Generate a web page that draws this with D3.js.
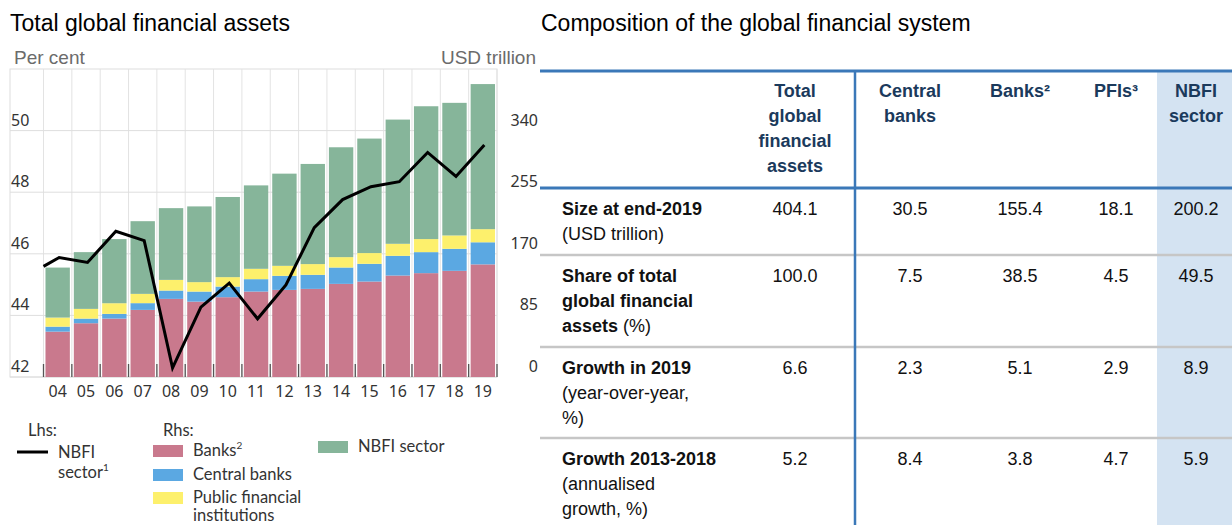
<!DOCTYPE html>
<html lang="en">
<head>
    <meta charset="UTF-8">
    <style>
        body { margin: 0; background: #fff; }
        svg { display: block; }
    </style>
</head>
<body>
    <script src="https://d3js.org/d3.v7.min.js"></script>
    <div id="here"></div>

    <script>
        // ---- chart data (left panel) ----
        const years = ["04","05","06","07","08","09","10","11","12","13","14","15","16","17","18","19"];
        // USD trillion
        const banks        = [62.6, 74.2, 80.6, 92.6, 107.8, 104.0, 110.1, 117.9, 120.2, 121.6, 128.5, 131.7, 140.0, 143.3, 146.5, 155.4];
        const centralBanks = [6.9, 6.4, 6.5, 9.3, 11.5, 13.9, 14.7, 17.1, 19.4, 19.4, 22.6, 24.5, 27.2, 29.0, 30.4, 30.5];
        const pfis         = [12.5, 13.4, 14.7, 12.8, 14.7, 13.0, 13.0, 14.3, 13.8, 14.8, 14.3, 14.8, 16.6, 18.0, 18.4, 18.1];
        const nbfi         = [69.0, 78.3, 88.5, 100.3, 99.0, 104.5, 110.6, 115.1, 127.2, 138.2, 151.6, 158.0, 171.4, 183.3, 183.0, 200.2];
        // NBFI share of total, per cent (lhs); first value sits at the start of 2004
        const nbfiShareStart = 45.59;
        const nbfiShare    = [45.88, 45.72, 46.73, 46.43, 42.30, 44.27, 45.05, 43.89, 44.99, 46.85, 47.76, 48.18, 48.34, 49.29, 48.51, 49.53];

        const lhsTicks = [42, 44, 46, 48, 50];
        const rhsTicks = [0, 85, 170, 255, 340];

        // ---- table data (right panel) ----
        const tableHeaders = [["Total", "global", "financial", "assets"], ["Central", "banks"], ["Banks²"], ["PFIs³"], ["NBFI", "sector"]];
        const rowBold   = [["Size at end-2019"], ["Share of total", "global financial", "assets"], ["Growth in 2019"], ["Growth 2013-2018"]];
        const rowNormal = [["(USD trillion)"], [" (%)"], ["(year-over-year,", "%)"], ["(annualised", "growth, %)"]];
        const sizeEnd2019 = [404.1, 30.5, 155.4, 18.1, 200.2];
        const shareOfTotal = [100.0, 7.5, 38.5, 4.5, 49.5];
        const growth2019 = [6.6, 2.3, 5.1, 2.9, 8.9];
        const growth1318 = [5.2, 8.4, 3.8, 4.7, 5.9];
        const tableRows = [sizeEnd2019, shareOfTotal, growth2019, growth1318];

        const colors = { banks: "#c9798d", central: "#5ba8e2", pfi: "#fdf06c", nbfi: "#86b59a" };

        const W = 1232, H = 525;
        const svg = d3.select("#here").append("svg")
            .attr("width", W).attr("height", H)
            .style("font-family", "'Liberation Sans', Arial, sans-serif");

        // ================= left chart =================
        const plot = { left: 10, right: 497, top: 69, bottom: 377 };
        const tickFont = "'Noto Sans', 'Open Sans', sans-serif";

        svg.append("text").attr("x", 10).attr("y", 31)
            .attr("font-size", 23).attr("fill", "#000").text("Total global financial assets");
        svg.append("text").attr("x", 14).attr("y", 64)
            .attr("font-size", 19).attr("fill", "#6b6b6b").text("Per cent");
        svg.append("text").attr("x", 536).attr("y", 64).attr("text-anchor", "end")
            .attr("font-size", 19).attr("fill", "#6b6b6b").text("USD trillion");

        const x = d3.scaleBand()
            .domain(years)
            .range([43.5, plot.right])
            .paddingInner(0.14)
            .paddingOuter(0.07);
        const step = x.step();
        const yR = d3.scaleLinear().domain([0, 425]).range([plot.bottom, plot.top]);
        const yL = d3.scaleLinear().domain([42, 52]).range([plot.bottom, plot.top]);

        // frame + grid
        svg.append("rect")
            .attr("x", plot.left).attr("y", plot.top)
            .attr("width", plot.right - plot.left).attr("height", plot.bottom - plot.top)
            .attr("fill", "none").attr("stroke", "#dedede").attr("stroke-width", 1);

        const cellEdges = d3.range(years.length + 1).map(i => x.range()[0] + i * step);
        svg.append("g").selectAll("line").data(cellEdges).join("line")
            .attr("x1", d => d).attr("x2", d => d)
            .attr("y1", plot.top).attr("y2", plot.bottom)
            .attr("stroke", "#e3e3e3").attr("stroke-width", 1);

        svg.append("g").selectAll("line").data(rhsTicks).join("line")
            .attr("x1", plot.left).attr("x2", plot.right)
            .attr("y1", d => yR(d)).attr("y2", d => yR(d))
            .attr("stroke", "#dedede").attr("stroke-width", 1);

        // stacked bars
        const stackData = years.map((yr, i) => ({
            year: yr, banks: banks[i], central: centralBanks[i], pfi: pfis[i], nbfi: nbfi[i]
        }));
        const series = d3.stack().keys(["banks", "central", "pfi", "nbfi"])(stackData);

        svg.append("g").selectAll("g").data(series).join("g")
            .attr("fill", d => colors[d.key])
            .selectAll("rect").data(d => d).join("rect")
                .attr("x", d => x(d.data.year))
                .attr("y", d => yR(d[1]))
                .attr("width", x.bandwidth())
                .attr("height", d => yR(d[0]) - yR(d[1]));

        // bottom ticks between bars
        svg.append("g").selectAll("line").data(cellEdges).join("line")
            .attr("x1", d => d).attr("x2", d => d)
            .attr("y1", plot.bottom - 13).attr("y2", plot.bottom)
            .attr("stroke", "#555").attr("stroke-width", 1.3);

        // NBFI share line
        const lineData = [{ px: x.range()[0], v: nbfiShareStart }]
            .concat(years.map((yr, i) => ({ px: x(yr) + x.bandwidth() / 2 + 1.5, v: nbfiShare[i] })));
        svg.append("path")
            .datum(lineData)
            .attr("fill", "none").attr("stroke", "#000").attr("stroke-width", 3)
            .attr("stroke-linejoin", "miter")
            .attr("d", d3.line().x(d => d.px).y(d => yL(d.v)));

        // axis labels
        svg.append("g").selectAll("text").data(lhsTicks).join("text")
            .attr("x", 11).attr("y", d => yL(d) - 5)
            .attr("font-family", tickFont).attr("font-size", 16).attr("fill", "#333")
            .text(d => d);
        svg.append("g").selectAll("text").data(rhsTicks).join("text")
            .attr("x", 538).attr("y", d => yR(d) - 5).attr("text-anchor", "end")
            .attr("font-family", tickFont).attr("font-size", 16).attr("fill", "#333")
            .text(d => d);
        svg.append("g").selectAll("text").data(years).join("text")
            .attr("x", d => x(d) + x.bandwidth() / 2).attr("y", 397)
            .attr("text-anchor", "middle")
            .attr("font-family", tickFont).attr("font-size", 16).attr("fill", "#333")
            .text(d => d);

        // legend
        const lg = svg.append("g").attr("font-family", "Lato, 'Noto Sans', sans-serif")
            .attr("font-size", 16.5).attr("fill", "#333");
        lg.append("text").attr("x", 28).attr("y", 436).text("Lhs:");
        lg.append("line").attr("x1", 17).attr("x2", 48).attr("y1", 452).attr("y2", 452)
            .attr("stroke", "#000").attr("stroke-width", 3);
        lg.append("text").attr("x", 58).attr("y", 458).text("NBFI");
        const s1 = lg.append("text").attr("x", 58).attr("y", 478).text("sector");
        s1.append("tspan").attr("font-size", 10).attr("dy", -7).text("1");

        lg.append("text").attr("x", 163).attr("y", 436).text("Rhs:");
        const legendItems = [
            { key: "banks", label: "Banks", sup: "2", x: 153, y: 445, lines: [] },
            { key: "central", label: "Central banks", x: 153, y: 469, lines: [] },
            { key: "pfi", label: "Public financial", x: 153, y: 492, lines: ["institutions"] },
            { key: "nbfi", label: "NBFI sector", x: 318, y: 441, lines: [] }
        ];
        legendItems.forEach(it => {
            lg.append("rect").attr("x", it.x).attr("y", it.y).attr("width", 30).attr("height", 12)
                .attr("fill", colors[it.key]);
            const t = lg.append("text").attr("x", it.x + 40).attr("y", it.y + 11).text(it.label);
            if (it.sup) t.append("tspan").attr("font-size", 10).attr("dy", -7).text(it.sup);
            it.lines.forEach((l, j) => {
                lg.append("text").attr("x", it.x + 40).attr("y", it.y + 9 + 20 * (j + 1)).text(l);
            });
        });

        // ================= right table =================
        const blue = "#3b78b8", navy = "#1b3a5c";
        const tLeft = 540, tRight = W;
        const colCenters = [795, 910, 1020, 1116, 1196];
        const shadeX = 1157;

        svg.append("text").attr("x", 541).attr("y", 31)
            .attr("font-size", 23).attr("fill", "#000").text("Composition of the global financial system");

        svg.append("rect").attr("x", shadeX).attr("y", 70).attr("width", tRight - shadeX).attr("height", H - 70)
            .attr("fill", "#d4e3f2");

        const rowTops = [188, 255, 347, 438];
        // row separators
        svg.append("g").selectAll("line").data(rowTops.slice(1)).join("line")
            .attr("x1", tLeft).attr("x2", tRight).attr("y1", d => d).attr("y2", d => d)
            .attr("stroke", "#c6c6c6").attr("stroke-width", 2.5);

        svg.append("line").attr("x1", tLeft).attr("x2", tRight).attr("y1", 71).attr("y2", 71)
            .attr("stroke", blue).attr("stroke-width", 3);
        svg.append("line").attr("x1", tLeft).attr("x2", tRight).attr("y1", 188).attr("y2", 188)
            .attr("stroke", blue).attr("stroke-width", 3);
        svg.append("line").attr("x1", 855).attr("x2", 855).attr("y1", 71).attr("y2", H)
            .attr("stroke", blue).attr("stroke-width", 2.5);

        // headers
        tableHeaders.forEach((lines, c) => {
            lines.forEach((l, j) => {
                svg.append("text").attr("x", colCenters[c]).attr("y", 97 + 25 * j)
                    .attr("text-anchor", "middle").attr("font-size", 18).attr("font-weight", "bold")
                    .attr("fill", navy).text(l);
            });
        });

        const fmt = d3.format(".1f");
        tableRows.forEach((vals, r) => {
            const base = rowTops[r] + 27;
            const bold = rowBold[r], normal = rowNormal[r];
            // row label: bold lines, then normal text (inline on the last bold line for the share row)
            bold.forEach((l, j) => {
                const t = svg.append("text").attr("x", 562).attr("y", base + 25 * j)
                    .attr("font-size", 18).attr("font-weight", "bold").attr("fill", "#111").text(l);
                if (r === 1 && j === bold.length - 1) {
                    t.append("tspan").attr("font-weight", "normal").text(normal[0]);
                }
            });
            if (r !== 1) {
                normal.forEach((l, j) => {
                    svg.append("text").attr("x", 562).attr("y", base + 25 * (bold.length + j))
                        .attr("font-size", 18).attr("fill", "#111").text(l);
                });
            }
            vals.forEach((v, c) => {
                svg.append("text").attr("x", colCenters[c]).attr("y", base)
                    .attr("text-anchor", "middle").attr("font-size", 18).attr("fill", "#111")
                    .text(fmt(v));
            });
        });
    </script>
</body>
</html>
